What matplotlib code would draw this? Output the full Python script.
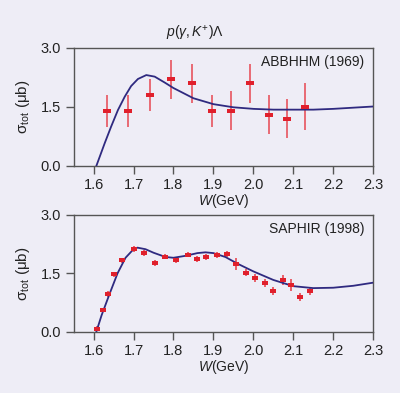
import numpy as np
import matplotlib.pyplot as plt

plt.rcParams['font.family'] = ['Liberation Sans', 'DejaVu Sans']
plt.rcParams['mathtext.fontset'] = 'custom'
plt.rcParams['mathtext.rm'] = 'Liberation Sans'
plt.rcParams['mathtext.it'] = 'Liberation Sans:italic'

# ABBHHM (1969) data
w_old = [1.634, 1.686, 1.741, 1.794, 1.846, 1.897, 1.944, 1.992, 2.039, 2.085, 2.130]
s_old = [1.4, 1.4, 1.8, 2.2, 2.1, 1.4, 1.4, 2.1, 1.3, 1.2, 1.5]
e_old = [0.4, 0.4, 0.4, 0.5, 0.5, 0.4, 0.5, 0.5, 0.5, 0.5, 0.6]

# model curve, top panel
w_fit1 = [1.607, 1.628, 1.644, 1.661, 1.678, 1.694, 1.711, 1.732, 1.753, 1.778,
          1.80, 1.85, 1.90, 1.95, 2.00, 2.05, 2.10, 2.15, 2.20, 2.25, 2.30]
s_fit1 = [0.0, 0.58, 1.0, 1.42, 1.76, 2.03, 2.21, 2.31, 2.27, 2.12,
          1.98, 1.72, 1.57, 1.49, 1.45, 1.43, 1.43, 1.43, 1.45, 1.48, 1.51]

# SAPHIR (1998) data
w_new = [1.608, 1.623, 1.637, 1.651, 1.672, 1.701, 1.727, 1.754, 1.780, 1.806,
         1.837, 1.858, 1.882, 1.908, 1.933, 1.957, 1.981, 2.004, 2.028, 2.050,
         2.074, 2.095, 2.118, 2.141]
s_new = [0.08, 0.56, 0.97, 1.47, 1.83, 2.13, 2.02, 1.77, 1.93, 1.83,
         1.98, 1.87, 1.92, 1.98, 2.00, 1.74, 1.52, 1.37, 1.25, 1.05,
         1.33, 1.20, 0.90, 1.04]
e_new = [0.06, 0.06, 0.07, 0.07, 0.07, 0.08, 0.07, 0.07, 0.07, 0.07,
         0.07, 0.07, 0.08, 0.08, 0.08, 0.15, 0.1, 0.1, 0.1, 0.1,
         0.13, 0.15, 0.1, 0.1]

# model curve, bottom panel
w_fit2 = [1.607, 1.62, 1.64, 1.66, 1.68, 1.70, 1.71, 1.73, 1.75, 1.78, 1.80,
          1.83, 1.86, 1.88, 1.90, 1.93, 1.96, 2.00, 2.05, 2.10, 2.15, 2.20,
          2.25, 2.30]
s_fit2 = [0.0, 0.42, 0.97, 1.50, 1.90, 2.12, 2.16, 2.12, 2.03, 1.92, 1.90,
          1.95, 2.02, 2.04, 2.02, 1.92, 1.75, 1.55, 1.33, 1.17, 1.12, 1.13,
          1.18, 1.26]

bg = '#eeedf6'
red = '#e0202c'
bar_red = '#e8606a'
navy = '#2f2a80'
spine = '#555555'

fig = plt.figure(figsize=(4.0, 3.93), dpi=100, facecolor=bg)
ax1 = fig.add_axes([0.184, 0.578, 0.749, 0.300])
ax2 = fig.add_axes([0.184, 0.156, 0.749, 0.297])

panels = [
    (ax1, w_old, s_old, e_old, w_fit1, s_fit1, 'ABBHHM (1969)', (7, 3.5), 1.3),
    (ax2, w_new, s_new, e_new, w_fit2, s_fit2, 'SAPHIR (1998)', (5, 3), 1.4),
]

for ax, w, s, e, wf, sf, label, msz, elw in panels:
    ax.set_facecolor(bg)
    ax.plot(wf, sf, color=navy, lw=1.3, zorder=3)
    ax.errorbar(w, s, yerr=e, fmt='none', ecolor=bar_red, elinewidth=elw,
                capsize=0, zorder=2)
    # rectangular markers
    mk = [(-msz[0] / 2, -msz[1] / 2), (msz[0] / 2, -msz[1] / 2),
          (msz[0] / 2, msz[1] / 2), (-msz[0] / 2, msz[1] / 2)]
    ax.scatter(w, s, marker=mk, s=msz[0] * msz[1] * 1.3, color=red, lw=0, zorder=4)
    ax.set_xlim(1.55, 2.3)
    ax.set_ylim(0, 3.0)
    ax.set_xticks(np.arange(1.6, 2.31, 0.1))
    ax.set_xticklabels(['1.6', '1.7', '1.8', '1.9', '2.0', '2.1', '2.2', '2.3'])
    ax.set_yticks([0.0, 1.5, 3.0])
    ax.set_yticklabels(['0.0', '1.5', '3.0'])
    ax.tick_params(direction='out', length=6, width=1, color=spine,
                   labelsize=10.5, labelcolor='#222222', pad=3)
    for sp in ax.spines.values():
        sp.set_color(spine)
        sp.set_linewidth(1)
    ax.text(0.97, 0.88, label, transform=ax.transAxes, ha='right', va='center',
            fontsize=10, color='#222222')
    ax.set_xlabel('$W$(GeV)', fontsize=10, color='#222222', labelpad=0)
    ax.set_ylabel('σ$_{\\mathrm{tot}}$ (μb)', fontsize=11, color='#222222', labelpad=6)

fig.text(0.488, 0.915, r'$p(\gamma,K^{+})\Lambda$', ha='center', va='center',
         fontsize=10, color='#222222')

fig.savefig('out.png', dpi=100, facecolor=bg)
